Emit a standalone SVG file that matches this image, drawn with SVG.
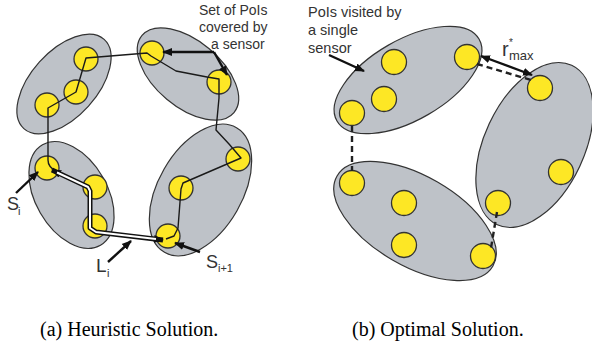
<svg xmlns="http://www.w3.org/2000/svg" width="592" height="349" viewBox="0 0 592 349">
<style>
.set{fill:#bec2c8;stroke:#333;stroke-width:1.2}
.poi{fill:#fde725;stroke:#333;stroke-width:1.3}
.tour{fill:none;stroke:#1a1a1a;stroke-width:1.4;stroke-linejoin:round}
.arr{fill:none;stroke:#111;stroke-width:2.4}
.dash{fill:none;stroke:#222;stroke-width:2.4;stroke-dasharray:6 4}
.lbl{font-family:"Liberation Sans",Arial,sans-serif;fill:#333}
.cap{font-family:"Liberation Serif","Times New Roman",serif;fill:#000;font-size:20px}
</style>
<defs>
<marker id="ah" viewBox="0 0 10 10" refX="9" refY="5" markerWidth="10" markerHeight="10" markerUnits="userSpaceOnUse" orient="auto-start-reverse">
<path d="M0,1 L10,5 L0,9 z" fill="#111"/>
</marker>
</defs>
<rect width="592" height="349" fill="#fff"/>

<!-- Left panel: heuristic -->
<g id="set-a1">
<ellipse class="set" cx="64" cy="84" rx="60" ry="33" transform="rotate(-48 64 84)"/>
<circle class="poi" cx="86" cy="59" r="12"/>
<circle class="poi" cx="76" cy="92" r="12"/>
<circle class="poi" cx="47" cy="105" r="12"/>
</g>
<g id="set-a2">
<ellipse class="set" cx="188" cy="74" rx="60" ry="33" transform="rotate(40 188 74)"/>
<circle class="poi" cx="152" cy="53" r="12"/>
<circle class="poi" cx="219" cy="82" r="12"/>
</g>
<g id="set-a3">
<ellipse class="set" cx="71.5" cy="195" rx="58" ry="36" transform="rotate(60 71.5 195)"/>
<circle class="poi" cx="47" cy="168" r="12"/>
<circle class="poi" cx="95" cy="187" r="12"/>
<circle class="poi" cx="95" cy="226" r="12"/>
</g>
<g id="set-a4">
<ellipse class="set" cx="200.5" cy="190" rx="72" ry="42" transform="rotate(-60 200.5 190)"/>
<circle class="poi" cx="238" cy="159" r="12"/>
<circle class="poi" cx="181" cy="188" r="12"/>
<circle class="poi" cx="168" cy="236" r="12"/>
</g>

<!-- Right panel: optimal -->
<g id="set-b1">
<ellipse class="set" cx="408" cy="80" rx="82" ry="40" transform="rotate(-30 408 80)"/>
<circle class="poi" cx="394" cy="62" r="12.5"/>
<circle class="poi" cx="467" cy="57" r="12.5"/>
<circle class="poi" cx="384" cy="99" r="12.5"/>
<circle class="poi" cx="352" cy="113" r="12.5"/>
</g>
<g id="set-b2">
<ellipse class="set" cx="534.5" cy="145" rx="88" ry="50" transform="rotate(-65 534.5 145)"/>
<circle class="poi" cx="540" cy="88" r="12.5"/>
<circle class="poi" cx="561" cy="172" r="12.5"/>
<circle class="poi" cx="498" cy="203" r="12.5"/>
</g>
<g id="set-b3">
<ellipse class="set" cx="415" cy="221" rx="90" ry="45" transform="rotate(30 415 221)"/>
<circle class="poi" cx="352" cy="183" r="12.5"/>
<circle class="poi" cx="404" cy="203" r="12.5"/>
<circle class="poi" cx="404" cy="245" r="12.5"/>
<circle class="poi" cx="483" cy="256" r="12.5"/>
</g>

<g id="connectors">
<!-- heuristic tour -->
<path class="tour" d="M56 171 Q48 167 48 160 L48 108 L76 92 L86 58 L147 53 L151 56 L176 71 L207 77 L219 79 L219 98 L216 130 L229 144 L241 158 L183 183 L181 189 L178 228 L174 236 L166 239"/>
<!-- L_i hollow path with arrowheads -->
<path d="M52 170 L88 187 L90 191 L90 228 L96 232 L163 240" fill="none" stroke="#111" stroke-width="5" stroke-linejoin="round" marker-start="url(#ah)" marker-end="url(#ah)"/>
<path d="M57 172.5 L88 187 L90 191 L90 228 L96 232 L156 239" fill="none" stroke="#fff" stroke-width="2" stroke-linejoin="round"/>
<!-- label arrows left -->
<path class="arr" d="M214 52 L163 52" marker-end="url(#ah)"/>
<path class="arr" d="M214 52 L227 75" marker-end="url(#ah)"/>
<path class="arr" d="M16 193 L38 172" marker-end="url(#ah)"/>
<path class="arr" d="M108 262 L131 241" marker-end="url(#ah)"/>
<path class="arr" d="M200 252 L175 243" marker-end="url(#ah)"/>
<!-- right panel -->
<path class="dash" d="M352 126 L352 171"/>
<path class="dash" d="M477 64 L531 80"/>
<path class="dash" d="M497 212 L491 248"/>
<path class="arr" d="M481 56 L532 75" marker-start="url(#ah)" marker-end="url(#ah)"/>
<path class="arr" d="M329 55 L364 71" marker-end="url(#ah)"/>
</g>

<g id="labels" class="lbl">
<text x="199" y="15" font-size="14">Set of PoIs</text>
<text x="199" y="32" font-size="14">covered by</text>
<text x="211" y="49" font-size="14">a sensor</text>
<text x="7" y="210" font-size="18">S</text>
<text x="18" y="215" font-size="11">i</text>
<text x="96" y="272" font-size="19">L</text>
<text x="107" y="277" font-size="11">i</text>
<text x="206" y="268" font-size="18">S</text>
<text x="218" y="272" font-size="11">i+1</text>
<text x="308" y="17" font-size="14.5">PoIs visited by</text>
<text x="308" y="35" font-size="14.5">a single</text>
<text x="308" y="53" font-size="14.5">sensor</text>
<text x="502" y="56" font-size="20">r</text>
<text x="509" y="46" font-size="10">*</text>
<text x="509" y="60" font-size="13">max</text>
</g>

<text class="cap" x="40" y="336">(a) Heuristic Solution.</text>
<text class="cap" x="352" y="336">(b) Optimal Solution.</text>
</svg>
